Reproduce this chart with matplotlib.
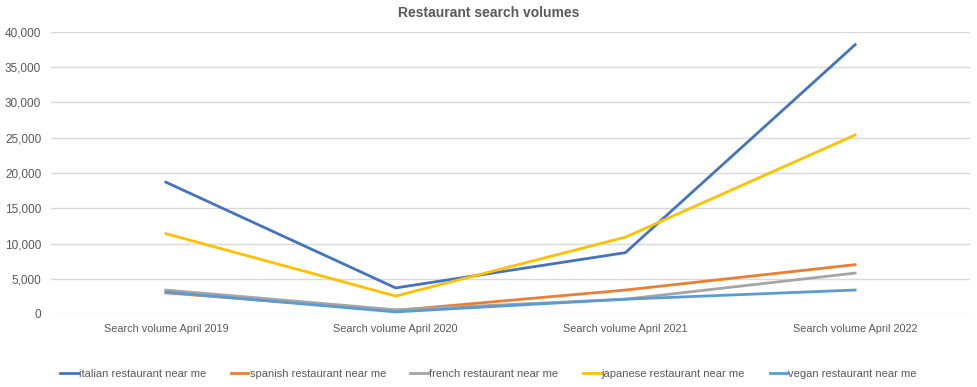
import matplotlib.pyplot as plt
from matplotlib.ticker import FuncFormatter

categories = ['Search volume April 2019', 'Search volume April 2020',
              'Search volume April 2021', 'Search volume April 2022']
italian = [18700, 3700, 8700, 38200]
spanish = [3000, 500, 3400, 7000]
french = [3400, 600, 2100, 5800]
japanese = [11400, 2550, 10900, 25400]
vegan = [3100, 300, 2100, 3400]

series = [
    ('italian restaurant near me', italian, '#4472C4'),
    ('spanish restaurant near me', spanish, '#ED7D31'),
    ('french restaurant near me', french, '#A5A5A5'),
    ('japanese restaurant near me', japanese, '#FFC000'),
    ('vegan restaurant near me', vegan, '#5B9BD5'),
]

plt.rcParams['font.family'] = ['Liberation Sans', 'DejaVu Sans']
txt = '#595959'

fig = plt.figure(figsize=(9.77, 3.87), dpi=100)
ax = fig.add_axes([51 / 977, 1 - 314 / 387, 919 / 977, 282 / 387])

x = range(len(categories))
for name, vals, col in series:
    ax.plot(x, vals, color=col, lw=2, label=name)

ax.set_xlim(-0.5, len(categories) - 0.5)
ax.set_ylim(0, 40000)
ax.set_yticks(range(0, 40001, 5000))
ax.yaxis.set_major_formatter(FuncFormatter(lambda v, p: f'{int(v):,}'))
ax.set_xticks(list(x))
ax.set_xticklabels(categories)
ax.grid(axis='y', color='#D9D9D9', lw=1)
ax.set_axisbelow(True)
for s in ax.spines.values():
    s.set_visible(False)
ax.tick_params(length=0, colors=txt, pad=7)
ax.tick_params(axis='x', labelsize=7.8)
ax.tick_params(axis='y', labelsize=8.5)

fig.suptitle('Restaurant search volumes', y=0.985, fontsize=10, fontweight='bold', color=txt)
fig.legend(loc='center', bbox_to_anchor=(0.5, 1 - 374 / 387), ncol=5, frameon=False,
           fontsize=8, labelcolor=txt, handlelength=1.6, handletextpad=0.1,
           columnspacing=2.2)

fig.savefig('out.png')
